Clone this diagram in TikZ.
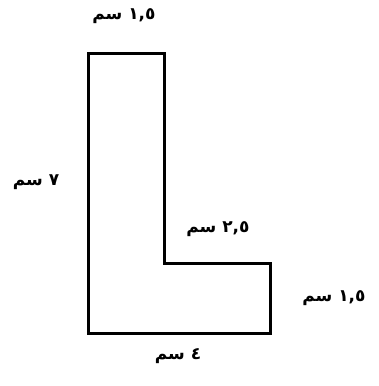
\documentclass[tikz,border=0pt]{standalone}
\usepackage{fontspec}
\newfontfamily\arabicfont[Script=Arabic]{DejaVu Sans}
\TeXXeTstate=1
\begin{document}
\begin{tikzpicture}[x=1pt,y=-1pt,
  shapeline/.style={line width=3pt,line join=miter},
  lbl/.style={font=\arabicfont\bfseries\fontsize{17}{19}\selectfont,inner sep=0pt}]
\useasboundingbox (0,0) rectangle (378,386);
\coordinate (a) at (88,53);
\coordinate (b) at (164,53);
\coordinate (c) at (164,263);
\coordinate (d) at (270,263);
\coordinate (e) at (270,333);
\coordinate (f) at (88,333);
\draw[shapeline] (a) -- (b) -- (c) -- (d) -- (e) -- (f) -- cycle;
\node[lbl] (top) at (124,16) {\beginR\beginL١,٥\endL{} سم\endR};
\node[lbl] (left) at (36,182) {\beginR\beginL٧\endL{} سم\endR};
\node[lbl] (mid) at (218,229) {\beginR\beginL٢,٥\endL{} سم\endR};
\node[lbl] (right) at (334,298) {\beginR\beginL١,٥\endL{} سم\endR};
\node[lbl] (bottom) at (178,356) {\beginR\beginL٤\endL{} سم\endR};
\end{tikzpicture}
\end{document}
